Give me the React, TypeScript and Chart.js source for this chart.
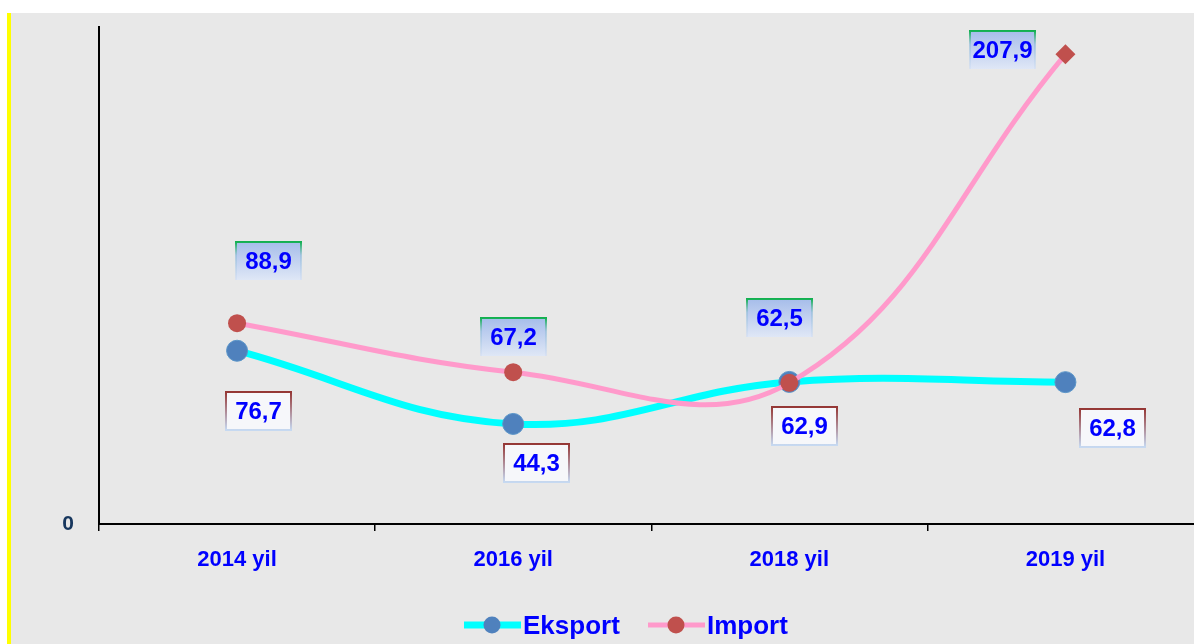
import React, { useEffect, useRef } from "react";
import { Chart, registerables } from "chart.js";

Chart.register(...registerables);

const categories = ["2014 yil", "2016 yil", "2018 yil", "2019 yil"];
const eksportValues = [76.7, 44.3, 62.9, 62.8];
const importValues = [88.9, 67.2, 62.5, 207.9];
const eksportLabels = ["76,7", "44,3", "62,9", "62,8"];
const importLabels = ["88,9", "67,2", "62,5", "207,9"];
const seriesNames = ["Eksport", "Import"];

// label box offsets relative to the data point (layout only)
const importLabelOffsets = [
  [31, -62],
  [0, -35],
  [-10, -65],
  [-63, -4],
];
const eksportLabelOffsets = [
  [21, 60],
  [23, 39],
  [15, 44],
  [47, 46],
];

const FONT = "'Liberation Sans', Arial, sans-serif";
const CYAN = "#00FFFF";
const PINK = "#FF9ACB";
const BLUE_MARK = "#4F81BD";
const RED_MARK = "#C0504D";
const TEXT_BLUE = "#0000FF";

function drawBox(
  ctx: CanvasRenderingContext2D,
  cx: number,
  cy: number,
  text: string,
  kind: "import" | "eksport"
) {
  const w = 65;
  const h = 38;
  const x = Math.round(cx - w / 2);
  const y = Math.round(cy - h / 2);
  ctx.save();
  if (kind === "import") {
    const g = ctx.createLinearGradient(0, y, 0, y + h);
    g.addColorStop(0, "#A6BDEA");
    g.addColorStop(1, "#DFE7F6");
    ctx.fillStyle = g;
    ctx.fillRect(x, y, w, h);
    const b = ctx.createLinearGradient(0, y, 0, y + h);
    b.addColorStop(0, "#12B050");
    b.addColorStop(0.35, "rgba(150,190,220,0.7)");
    b.addColorStop(1, "rgba(210,222,245,0.6)");
    ctx.strokeStyle = b;
    ctx.lineWidth = 2;
    ctx.beginPath();
    ctx.moveTo(x, y + h);
    ctx.lineTo(x, y);
    ctx.lineTo(x + w, y);
    ctx.lineTo(x + w, y + h);
    ctx.stroke();
  } else {
    ctx.fillStyle = "#F6F7FA";
    ctx.fillRect(x, y, w, h);
    const b = ctx.createLinearGradient(0, y, 0, y + h);
    b.addColorStop(0, "#953735");
    b.addColorStop(1, "#C6D9F1");
    ctx.strokeStyle = b;
    ctx.lineWidth = 2;
    ctx.strokeRect(x, y, w, h);
  }
  ctx.fillStyle = TEXT_BLUE;
  ctx.font = `bold 24px ${FONT}`;
  ctx.textAlign = "center";
  ctx.textBaseline = "middle";
  ctx.fillText(text, x + w / 2, y + h / 2 + 1);
  ctx.restore();
}

const labelPlugin = {
  id: "valueBoxes",
  afterDatasetsDraw(chart: any) {
    const ctx = chart.ctx as CanvasRenderingContext2D;
    const metaE = chart.getDatasetMeta(0);
    const metaI = chart.getDatasetMeta(1);
    metaI.data.forEach((pt: any, i: number) => {
      const [dx, dy] = importLabelOffsets[i];
      drawBox(ctx, pt.x + dx, pt.y + dy, importLabels[i], "import");
    });
    metaE.data.forEach((pt: any, i: number) => {
      const [dx, dy] = eksportLabelOffsets[i];
      drawBox(ctx, pt.x + dx, pt.y + dy, eksportLabels[i], "eksport");
    });
  },
};

const legendPlugin = {
  id: "customLegend",
  afterDraw(chart: any) {
    const ctx = chart.ctx as CanvasRenderingContext2D;
    const y = 625;
    ctx.save();
    // Eksport
    ctx.strokeStyle = CYAN;
    ctx.lineWidth = 7;
    ctx.beginPath();
    ctx.moveTo(464, y);
    ctx.lineTo(521, y);
    ctx.stroke();
    ctx.fillStyle = BLUE_MARK;
    ctx.beginPath();
    ctx.arc(492, y, 8.5, 0, Math.PI * 2);
    ctx.fill();
    // Import
    ctx.strokeStyle = PINK;
    ctx.lineWidth = 5;
    ctx.beginPath();
    ctx.moveTo(648, y);
    ctx.lineTo(705, y);
    ctx.stroke();
    ctx.fillStyle = RED_MARK;
    ctx.beginPath();
    ctx.arc(676, y, 8.5, 0, Math.PI * 2);
    ctx.fill();
    ctx.fillStyle = TEXT_BLUE;
    ctx.font = `bold 26px ${FONT}`;
    ctx.textAlign = "left";
    ctx.textBaseline = "alphabetic";
    ctx.fillText(seriesNames[0], 523, 634);
    ctx.fillText(seriesNames[1], 707, 634);
    ctx.restore();
  },
};

export default function App() {
  const ref = useRef<HTMLCanvasElement | null>(null);

  useEffect(() => {
    if (!ref.current) return;
    const chart = new Chart(ref.current, {
      type: "line",
      data: {
        labels: categories,
        datasets: [
          {
            label: seriesNames[0],
            data: eksportValues,
            borderColor: CYAN,
            borderWidth: 7,
            tension: 0.4,
            pointRadius: 10.5,
            pointBackgroundColor: BLUE_MARK,
            pointBorderColor: "#5B95C8",
            pointBorderWidth: 1,
            order: 1,
            clip: false as any,
          },
          {
            label: seriesNames[1],
            data: importValues,
            borderColor: PINK,
            borderWidth: 5,
            tension: 0.4,
            pointRadius: [9, 9, 9, 10],
            pointStyle: ["circle", "circle", "circle", "rectRot"] as any,
            pointBackgroundColor: RED_MARK,
            pointBorderColor: RED_MARK,
            pointBorderWidth: 0,
            order: 0,
            clip: false as any,
          },
        ],
      },
      options: {
        animation: false,
        responsive: false,
        devicePixelRatio: 1,
        layout: { padding: { left: 0, right: 8, top: 27, bottom: 0 } },
        plugins: {
          legend: { display: false },
          tooltip: { enabled: false },
        },
        scales: {
          x: {
            offset: true,
            grid: {
              display: true,
              drawOnChartArea: false,
              drawTicks: true,
              tickLength: 7,
              color: "#000000",
              lineWidth: 1.5,
              offset: true,
            },
            border: { display: true, color: "#000000", width: 2 },
            ticks: {
              color: TEXT_BLUE,
              font: { family: FONT, size: 22, weight: "bold" },
              padding: 16,
              maxRotation: 0,
            },
            afterFit: (scale: any) => {
              scale.height = 120;
            },
          },
          y: {
            min: 0,
            max: 220,
            grid: { display: false, drawTicks: false },
            border: { display: true, color: "#000000", width: 2 },
            ticks: {
              stepSize: 220,
              padding: 25,
              color: "#17375E",
              font: { family: FONT, size: 21, weight: "bold" },
              callback: (v: any) => (Number(v) === 0 ? "0" : ""),
            },
            afterBuildTicks: (scale: any) => {
              scale.ticks = scale.ticks.filter((t: any) => t.value === 0);
            },
            afterFit: (scale: any) => {
              scale.width = 99;
              scale.paddingTop = 0;
            },
          },
        },
      },
      plugins: [labelPlugin, legendPlugin],
    });
    return () => chart.destroy();
  }, []);

  return (
    <div
      style={{
        position: "fixed",
        left: 0,
        top: 0,
        width: 1194,
        height: 644,
        overflow: "hidden",
        background: "#ffffff",
      }}
    >
      <div
        style={{
          position: "absolute",
          left: 7,
          top: 13,
          width: 1200,
          height: 640,
          background: "#E8E8E8",
          borderLeft: "4px solid #FFFF00",
        }}
      />
      <canvas
        ref={ref}
        width={1215}
        height={644}
        style={{ position: "absolute", left: 0, top: 0, width: 1215, height: 644 }}
      />
    </div>
  );
}
